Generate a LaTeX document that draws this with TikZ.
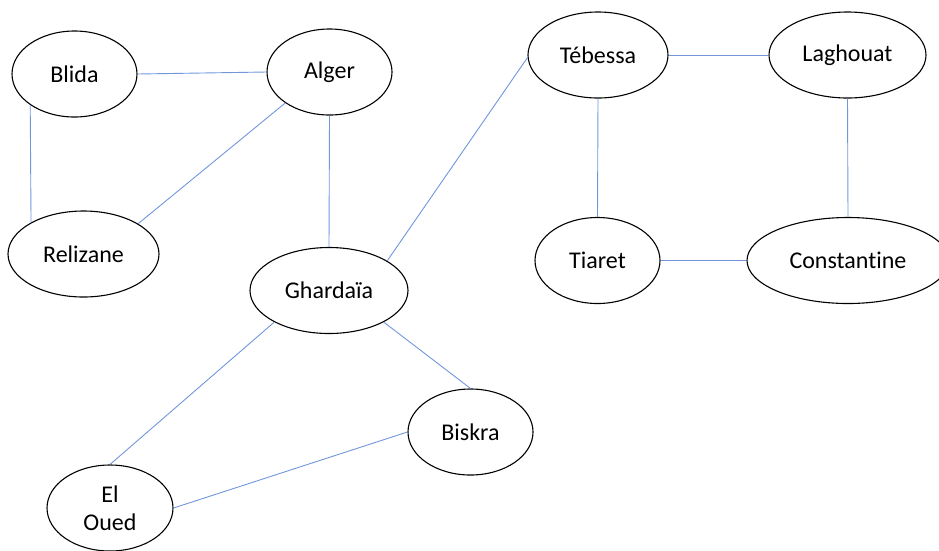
\documentclass[tikz,border=0pt]{standalone}
\usepackage{fontspec}
\setmainfont{Carlito}[Ligatures=CommonOff]
\usetikzlibrary{shapes.geometric}
\definecolor{linkblue}{RGB}{114,150,220}
\tikzstyle{citystyle}=[draw, ellipse, line width=1.1pt, minimum height=86pt,
  inner sep=0pt, align=center, font=\fontsize{24}{28}\selectfont]
\tikzstyle{line} = [draw, color=linkblue, line width=0.9pt]
\newcommand{\town}[3]{node (#1) [citystyle, minimum width=#2pt] {#3}}

\begin{document}
\begin{tikzpicture}[x=1pt, y=-1pt]
\useasboundingbox (0,0) rectangle (939,550);
% Draw diagram elements
\path (74.5,74)    \town{blida}{125}{Blida};
\path (329.5,72)   \town{alger}{125}{Alger};
\path (83.5,254)   \town{relizane}{151}{Relizane};
\path (329,290.5)  \town{ghardaia}{158}{Ghardaïa};
\path (598,55)     \town{tebessa}{140}{Tébessa};
\path (847.5,55)   \town{laghouat}{157}{Laghouat};
\path (597.5,260.5) \town{tiaret}{125}{Tiaret};
\path (848,260.5)  \town{constantine}{202}{Constantine};
\path (470.5,432)  \town{biskra}{125}{Biskra};
\path (110,508)    \town{eloued}{126}{El\\Oued};

% Draw lines between elements
\path [line] (blida.east) -- (alger.west);
\path [line] (blida.215) -- (relizane.149);
\path [line] (alger.215) -- (relizane.29);
\path [line] (alger.south) -- (ghardaia.north);
\path [line] (ghardaia.27) -- (tebessa.182);
\path [line] (ghardaia.210) -- (eloued.north);
\path [line] (ghardaia.330) -- (biskra.north);
\path [line] (biskra.west) -- (eloued.east);
\path [line] (tebessa.east) -- (laghouat.west);
\path [line] (tebessa.south) -- (tiaret.north);
\path [line] (laghouat.south) -- (constantine.north);
\path [line] (tiaret.east) -- (constantine.west);
\end{tikzpicture}
\end{document}
